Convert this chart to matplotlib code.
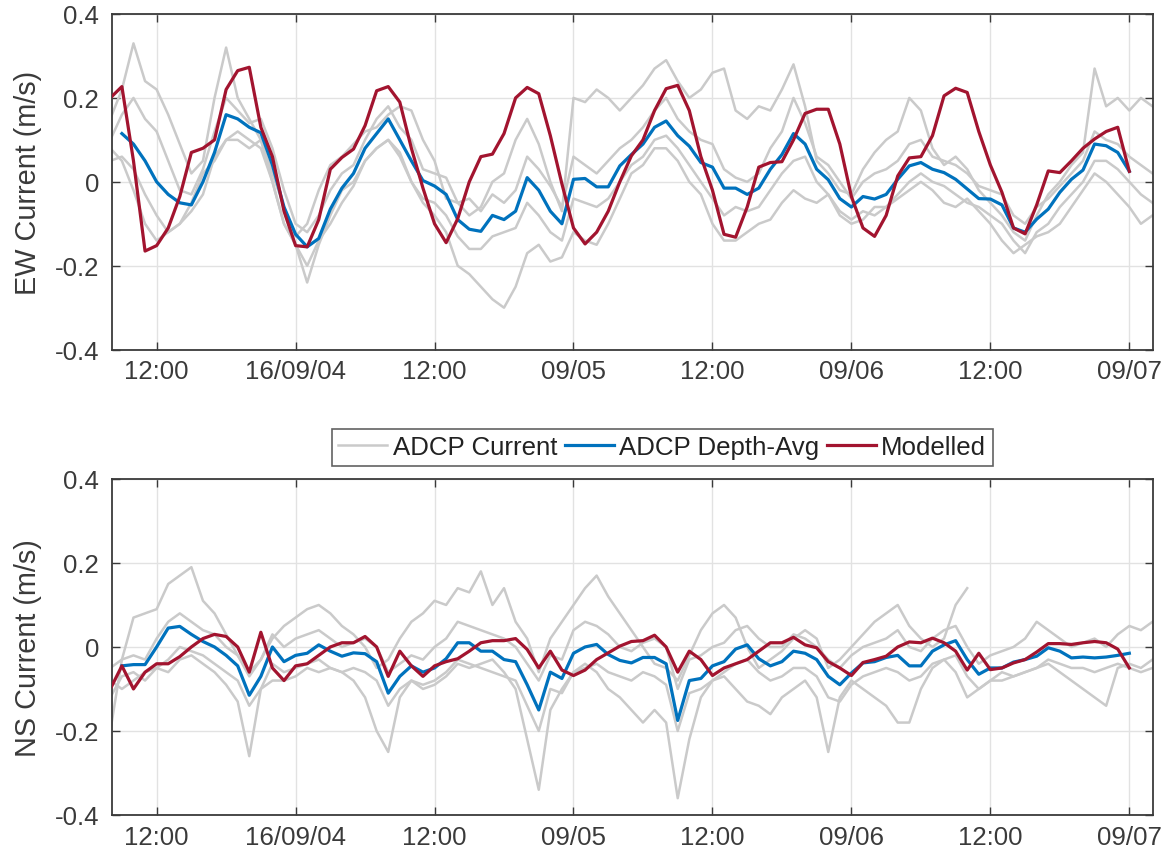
import numpy as np
import matplotlib
matplotlib.use("Agg")
import matplotlib.pyplot as plt

nan = np.nan

# Hours since 2016-09-03 00:00
model_hours = np.arange(8, 97)
adcp_hours = np.arange(8, 99)

tick_hours = [12, 24, 36, 48, 60, 72, 84, 96]
tick_labels = ["12:00", "16/09/04", "12:00", "09/05", "12:00", "09/06", "12:00", "09/07"]
y_ticks = [-0.4, -0.2, 0.0, 0.2, 0.4]
y_tick_labels = ["-0.4", "-0.2", "0", "0.2", "0.4"]

# ---------------- East-West current ----------------
ew_model = [
    0.20, 0.227, 0.05, -0.165, -0.152, -0.11, -0.035, 0.07, 0.08, 0.10,
    0.22, 0.265, 0.273, 0.13, 0.06, -0.07, -0.152, -0.155, -0.09, 0.03,
    0.058, 0.078, 0.134, 0.217, 0.227, 0.19, 0.08, -0.015, -0.10, -0.145,
    -0.088, 0.0, 0.06, 0.066, 0.115, 0.20, 0.225, 0.21, 0.11, -0.005,
    -0.11, -0.148, -0.12, -0.07, 0.0, 0.062, 0.10, 0.17, 0.222, 0.23,
    0.17, 0.06, -0.02, -0.125, -0.132, -0.06, 0.035, 0.046, 0.048, 0.10,
    0.163, 0.173, 0.173, 0.09, -0.035, -0.11, -0.13, -0.08, 0.014, 0.057,
    0.06, 0.11, 0.205, 0.223, 0.213, 0.12, 0.04, -0.025, -0.11, -0.124,
    -0.055, 0.026, 0.022, 0.05, 0.08, 0.102, 0.12, 0.13, 0.025,
]
ew_depth_avg = [
    nan, 0.115, 0.09, 0.05, 0.0, -0.03, -0.05, -0.055, 0.0, 0.07,
    0.16, 0.15, 0.13, 0.117, 0.04, -0.06, -0.125, -0.155, -0.135, -0.065,
    -0.015, 0.02, 0.08, 0.115, 0.15, 0.10, 0.05, 0.003, -0.01, -0.03,
    -0.09, -0.113, -0.118, -0.08, -0.09, -0.07, 0.01, -0.02, -0.07, -0.10,
    0.006, 0.008, -0.012, -0.012, 0.038, 0.065, 0.09, 0.13, 0.145, 0.11,
    0.085, 0.046, 0.035, -0.015, -0.015, -0.03, -0.015, 0.03, 0.065, 0.115,
    0.09, 0.03, 0.005, -0.04, -0.06, -0.035, -0.041, -0.03, 0.006, 0.038,
    0.046, 0.03, 0.022, 0.006, -0.017, -0.04, -0.041, -0.055, -0.11, -0.12,
    -0.089, -0.065, -0.025, 0.006, 0.028, 0.09, 0.086, 0.07, 0.025,
]
ew_bin_1 = [
    0.15, 0.22, 0.33, 0.24, 0.22, 0.16, 0.09, 0.02, 0.05, 0.20,
    0.32, 0.20, 0.15, 0.10, 0.02, -0.06, -0.13, -0.10, -0.02, 0.04,
    0.06, 0.09, 0.12, 0.13, 0.16, 0.18, 0.17, 0.10, 0.05, -0.04,
    -0.05, -0.08, -0.06, 0.0, 0.02, 0.10, 0.15, 0.09, 0.0, -0.07,
    0.20, 0.19, 0.22, 0.20, 0.17, 0.20, 0.23, 0.27, 0.29, 0.24,
    0.20, 0.22, 0.26, 0.27, 0.17, 0.15, 0.18, 0.17, 0.22, 0.28,
    0.18, 0.05, 0.02, -0.02, -0.03, 0.03, 0.07, 0.10, 0.12, 0.20,
    0.17, 0.08, 0.04, 0.06, 0.03, -0.02, -0.05, -0.08, -0.12, -0.14,
    -0.08, -0.03, 0.0, 0.04, 0.07, 0.27, 0.18, 0.20, 0.17, 0.20, 0.18,
]
ew_bin_2 = [
    0.08, 0.05, -0.02, -0.10, -0.14, -0.12, -0.10, -0.05, 0.02, 0.05,
    0.10, 0.10, 0.08, 0.10, 0.0, -0.10, -0.15, -0.24, -0.15, -0.08,
    -0.02, 0.0, 0.05, 0.08, 0.10, 0.06, 0.0, -0.05, -0.08, -0.12,
    -0.20, -0.22, -0.25, -0.28, -0.30, -0.25, -0.17, -0.15, -0.19, -0.18,
    -0.12, -0.14, -0.15, -0.10, -0.04, 0.02, 0.04, 0.08, 0.08, 0.05,
    0.0, -0.03, -0.10, -0.14, -0.14, -0.12, -0.10, -0.09, -0.05, -0.02,
    -0.04, -0.05, -0.03, -0.08, -0.10, -0.09, -0.06, -0.06, -0.04, -0.02,
    0.0, -0.02, -0.05, -0.06, -0.04, -0.07, -0.10, -0.14, -0.17, -0.15,
    -0.13, -0.12, -0.10, -0.06, -0.02, 0.02, 0.0, -0.03, -0.06, -0.10, -0.08,
]
ew_bin_3 = [
    0.10, 0.16, 0.20, 0.15, 0.12, 0.05, -0.02, -0.03, 0.03, 0.12,
    0.20, 0.17, 0.14, 0.15, 0.08, -0.02, -0.10, -0.12, -0.08, -0.02,
    0.02, 0.04, 0.10, 0.15, 0.18, 0.13, 0.10, 0.03, 0.02, 0.01,
    -0.05, -0.04, -0.07, -0.03, -0.05, -0.02, 0.06, 0.03, -0.01, -0.06,
    0.06, 0.04, 0.02, 0.05, 0.08, 0.10, 0.13, 0.17, 0.20, 0.15,
    0.12, 0.10, 0.09, 0.03, 0.01, 0.0, 0.02, 0.08, 0.12, 0.20,
    0.14, 0.06, 0.04, 0.0, -0.04, 0.0, 0.02, 0.03, 0.05, 0.09,
    0.10, 0.06, 0.05, 0.04, 0.02, -0.01, -0.02, -0.03, -0.08, -0.10,
    -0.06, -0.04, -0.01, 0.02, 0.05, 0.12, 0.10, 0.09, 0.06, 0.04, 0.02,
]
ew_bin_4 = [
    0.05, 0.06, 0.03, -0.03, -0.08, -0.12, -0.10, -0.07, -0.03, 0.06,
    0.10, 0.12, 0.10, 0.08, 0.0, -0.10, -0.15, -0.20, -0.14, -0.10,
    -0.05, -0.01, 0.05, 0.08, 0.10, 0.07, 0.0, -0.04, -0.05, -0.08,
    -0.13, -0.16, -0.16, -0.13, -0.12, -0.11, -0.05, -0.08, -0.12, -0.14,
    -0.04, -0.05, -0.06, -0.04, 0.0, 0.04, 0.06, 0.10, 0.11, 0.08,
    0.04, 0.0, -0.04, -0.08, -0.06, -0.07, -0.06, -0.02, 0.02, 0.05,
    0.06, 0.0, -0.03, -0.07, -0.09, -0.07, -0.08, -0.06, -0.03, 0.0,
    0.02, 0.0, -0.01, -0.03, -0.05, -0.06, -0.08, -0.10, -0.14, -0.17,
    -0.12, -0.10, -0.06, -0.03, 0.0, 0.05, 0.05, 0.03, 0.0, -0.03, -0.05,
]

# ---------------- North-South current ----------------
ns_model = [
    -0.10, -0.045, -0.10, -0.06, -0.04, -0.04, -0.023, 0.0, 0.02, 0.03,
    0.025, 0.0, -0.06, 0.035, -0.05, -0.08, -0.045, -0.04, -0.02, 0.0,
    0.01, 0.01, 0.025, 0.0, -0.07, -0.01, -0.045, -0.07, -0.045, -0.035,
    -0.028, -0.01, 0.01, 0.015, 0.015, 0.02, -0.006, -0.05, -0.01, -0.055,
    -0.068, -0.055, -0.03, -0.014, 0.002, 0.013, 0.015, 0.028, 0.0, -0.06,
    -0.01, -0.03, -0.068, -0.05, -0.04, -0.03, -0.01, 0.01, 0.01, 0.023,
    0.005, -0.002, -0.035, -0.05, -0.068, -0.037, -0.03, -0.022, 0.0, 0.012,
    0.01, 0.021, 0.01, -0.01, -0.055, -0.015, -0.054, -0.05, -0.038, -0.03,
    -0.012, 0.008, 0.008, 0.006, 0.01, 0.013, 0.01, -0.005, -0.05,
]
ns_depth_avg = [
    nan, -0.045, -0.042, -0.042, 0.0, 0.045, 0.049, 0.03, 0.013, 0.0,
    -0.02, -0.045, -0.115, -0.07, 0.0, -0.035, -0.02, -0.015, 0.005, -0.01,
    -0.022, -0.014, -0.016, -0.035, -0.11, -0.07, -0.045, -0.06, -0.05, -0.028,
    0.01, 0.01, -0.01, -0.01, -0.03, -0.035, -0.09, -0.15, -0.06, -0.075,
    -0.015, 0.0, 0.006, -0.018, -0.032, -0.038, -0.025, -0.025, -0.04, -0.175,
    -0.08, -0.075, -0.045, -0.035, -0.005, 0.005, -0.028, -0.045, -0.035, -0.01,
    -0.015, -0.03, -0.07, -0.09, -0.062, -0.038, -0.035, -0.025, -0.02, -0.045,
    -0.045, -0.01, 0.005, 0.015, -0.03, -0.065, -0.05, -0.05, -0.036, -0.03,
    -0.022, -0.002, -0.01, -0.026, -0.024, -0.026, -0.024, -0.02, -0.015,
]
ns_bin_1 = [
    -0.20, -0.03, 0.07, 0.08, 0.09, 0.15, 0.17, 0.19, 0.11, 0.08,
    0.03, -0.02, -0.06, -0.03, 0.02, 0.05, 0.07, 0.09, 0.10, 0.08,
    0.05, 0.03, 0.0, -0.05, -0.03, 0.02, 0.06, 0.08, 0.11, 0.10,
    0.14, 0.13, 0.18, 0.10, 0.14, 0.06, 0.02, -0.06, 0.02, 0.06,
    0.10, 0.14, 0.17, 0.12, 0.08, 0.04, 0.0, -0.04, -0.05, -0.08,
    -0.02, 0.04, 0.08, 0.10, 0.07, 0.0, -0.05, -0.03, -0.01, 0.02,
    0.04, 0.02, -0.05, -0.03, 0.0, 0.03, 0.06, 0.08, 0.10, 0.05,
    0.02, 0.0, 0.02, 0.10, 0.14, nan, nan, nan, nan, nan,
    nan, nan, nan, nan, nan, nan, nan, nan, nan, nan, nan,
]
ns_bin_2 = [
    -0.08, -0.10, -0.08, -0.06, -0.05, -0.06, -0.03, -0.02, -0.04, -0.06,
    -0.09, -0.13, -0.26, -0.10, -0.08, -0.08, -0.07, -0.05, -0.06, -0.05,
    -0.06, -0.08, -0.12, -0.20, -0.25, -0.12, -0.08, -0.10, -0.09, -0.07,
    -0.04, -0.05, -0.04, -0.03, -0.06, -0.10, -0.22, -0.34, -0.15, -0.10,
    -0.06, -0.04, -0.06, -0.10, -0.12, -0.15, -0.18, -0.15, -0.18, -0.36,
    -0.22, -0.12, -0.08, -0.07, -0.10, -0.13, -0.14, -0.16, -0.12, -0.10,
    -0.08, -0.12, -0.25, -0.12, -0.08, -0.10, -0.12, -0.14, -0.18, -0.18,
    -0.10, -0.05, -0.03, -0.06, -0.12, -0.10, -0.08, -0.06, -0.07, -0.06,
    -0.05, -0.04, -0.06, -0.08, -0.10, -0.12, -0.14, -0.05, -0.04, -0.05, -0.03,
]
ns_bin_3 = [
    -0.05, -0.03, -0.02, -0.03, 0.02, 0.06, 0.08, 0.06, 0.04, 0.03,
    0.0, -0.02, -0.07, -0.03, 0.03, 0.0, 0.02, 0.03, 0.04, 0.02,
    0.0, 0.01, 0.02, 0.0, -0.06, -0.04, -0.02, -0.03, 0.0, 0.02,
    0.06, 0.05, 0.04, 0.03, 0.02, 0.0, -0.04, -0.08, -0.02, -0.03,
    0.04, 0.06, 0.05, 0.03, 0.0, -0.01, 0.01, 0.02, 0.0, -0.10,
    -0.03, -0.02, 0.0, 0.01, 0.04, 0.05, 0.02, 0.0, 0.0, 0.03,
    0.02, 0.0, -0.03, -0.05, -0.02, 0.0, 0.01, 0.02, 0.04, 0.0,
    -0.01, 0.02, 0.04, 0.05, 0.0, -0.04, -0.02, -0.01, 0.0, 0.02,
    0.06, 0.04, 0.02, 0.0, 0.01, 0.02, 0.0, 0.03, 0.05, 0.04, 0.06,
]
ns_bin_4 = [
    -0.12, -0.07, -0.06, -0.08, -0.05, -0.03, 0.0, -0.01, -0.02, -0.04,
    -0.06, -0.08, -0.14, -0.10, -0.04, -0.06, -0.05, -0.04, -0.03, -0.05,
    -0.06, -0.05, -0.06, -0.08, -0.14, -0.10, -0.08, -0.09, -0.08, -0.06,
    -0.03, -0.04, -0.05, -0.06, -0.07, -0.08, -0.14, -0.20, -0.10, -0.11,
    -0.06, -0.05, -0.04, -0.06, -0.07, -0.08, -0.06, -0.07, -0.09, -0.20,
    -0.11, -0.10, -0.08, -0.06, -0.04, -0.03, -0.06, -0.08, -0.07, -0.05,
    -0.05, -0.07, -0.12, -0.13, -0.09, -0.07, -0.06, -0.05, -0.06, -0.08,
    -0.07, -0.04, -0.03, -0.02, -0.07, -0.10, -0.08, -0.08, -0.07, -0.06,
    -0.05, -0.03, -0.04, -0.05, -0.05, -0.06, -0.05, -0.04, -0.05, -0.06, -0.05,
]

ew_bins = [ew_bin_1, ew_bin_2, ew_bin_3, ew_bin_4]
ns_bins = [ns_bin_1, ns_bin_2, ns_bin_3, ns_bin_4]

GRAY = "#cacaca"
BLUE = "#0072bd"
RED = "#a2142f"
AXC = "#3a3a3a"

plt.rcParams["font.family"] = ["Liberation Sans", "DejaVu Sans"]

fig = plt.figure(figsize=(11.66, 8.62), dpi=100)
ax_ew = fig.add_axes([0.0958, 0.5932, 0.8931, 0.3894])
ax_ns = fig.add_axes([0.0958, 0.0534, 0.8931, 0.3898])


def draw_panel(ax, bins, depth_avg, model, ylabel):
    handles = []
    for i, b in enumerate(bins):
        h, = ax.plot(adcp_hours, b, color=GRAY, lw=1.8, zorder=2)
        if i == 0:
            handles.append(h)
    h_avg, = ax.plot(model_hours, depth_avg, color=BLUE, lw=2.3, zorder=3)
    h_mod, = ax.plot(model_hours, model, color=RED, lw=2.3, zorder=4)
    handles += [h_avg, h_mod]

    ax.set_xlim(8.12, 98.05)
    ax.set_ylim(-0.4, 0.4)
    ax.set_xticks(tick_hours)
    ax.set_xticklabels(tick_labels)
    ax.set_yticks(y_ticks)
    ax.set_yticklabels(y_tick_labels)
    ax.grid(True, color="#e2e2e2", lw=1.0)
    ax.set_axisbelow(True)
    ax.tick_params(direction="in", top=True, right=True, length=6, width=1.0,
                   colors=AXC, labelsize=18.6)
    ax.tick_params(axis="y", pad=9)
    ax.tick_params(axis="x", pad=7)
    for s in ax.spines.values():
        s.set_color(AXC)
        s.set_linewidth(1.3)
    ax.set_ylabel(ylabel, fontsize=20.8, color=AXC, labelpad=9)
    return handles


handles = draw_panel(ax_ew, ew_bins, ew_depth_avg, ew_model, "EW Current (m/s)")
draw_panel(ax_ns, ns_bins, ns_depth_avg, ns_model, "NS Current (m/s)")

leg = fig.legend(handles, ["ADCP Current", "ADCP Depth-Avg", "Modelled"],
                 loc="center", bbox_to_anchor=(0.568, 0.480), ncol=3,
                 fontsize=18.6, frameon=True, fancybox=False,
                 handlelength=1.9, handletextpad=0.2, columnspacing=0.3,
                 borderpad=0.25, borderaxespad=0.0)
leg.get_frame().set_edgecolor(AXC)
leg.get_frame().set_linewidth(1.2)
for t in leg.get_texts():
    t.set_color("#222222")

fig.savefig("out.png", dpi=100)
